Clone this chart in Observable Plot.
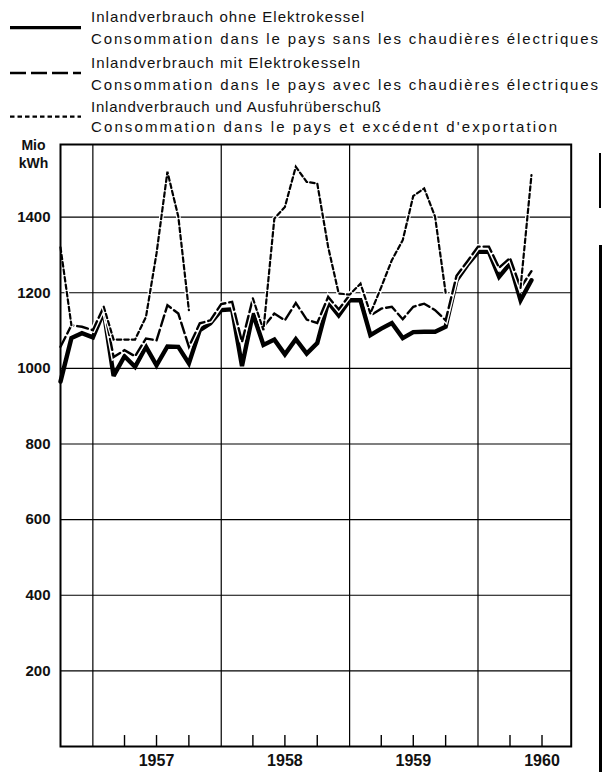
<!DOCTYPE html>
<html>
<head>
<meta charset="utf-8">
<script src="https://cdn.jsdelivr.net/npm/d3@7"></script>
<script src="https://cdn.jsdelivr.net/npm/@observablehq/plot@0.6"></script>
<style>
  html, body { margin: 0; padding: 0; background: #fff; }
  #wrap { position: relative; width: 602px; height: 772px; overflow: hidden; }
  .edge { position: absolute; background: #000; }
</style>
</head>
<body>
<div id="wrap"></div>
<script>
// ---- data ----
const months = [
  "1956-10","1956-11","1956-12",
  "1957-01","1957-02","1957-03","1957-04","1957-05","1957-06","1957-07","1957-08","1957-09","1957-10","1957-11","1957-12",
  "1958-01","1958-02","1958-03","1958-04","1958-05","1958-06","1958-07","1958-08","1958-09","1958-10","1958-11","1958-12",
  "1959-01","1959-02","1959-03","1959-04","1959-05","1959-06","1959-07","1959-08","1959-09","1959-10","1959-11","1959-12",
  "1960-01","1960-02","1960-03","1960-04","1960-05","1960-06"
];
// Inlandverbrauch ohne Elektrokessel
const ohne = [
  965,1080,1093,
  1082,1150,980,1032,1004,1057,1008,1058,1057,1013,1101,1119,
  1154,1156,1006,1145,1062,1076,1037,1077,1039,1067,1175,1140,
  1180,1180,1088,1105,1120,1080,1096,1097,1097,1110,1233,1273,
  1308,1308,1242,1277,1180,1233
];
// Inlandverbrauch mit Elektrokesseln
const mit = [
  1057,1114,1110,
  1101,1163,1030,1048,1032,1079,1074,1167,1145,1057,1119,1127,
  1170,1176,1070,1185,1110,1145,1127,1173,1129,1120,1189,1156,
  1194,1224,1140,1158,1163,1130,1163,1171,1154,1127,1245,1282,
  1322,1322,1266,1292,1213,1257
];
// Inlandverbrauch und Ausfuhrüberschuß (null = coincides with the line above)
const ausfuhr = [
  1320,1114,null,
  null,1163,1076,1076,1076,1136,1304,1520,1401,1154,null,null,
  null,null,null,1185,1101,1396,1427,1533,1493,1489,1321,1198,
  1195,1224,1145,1215,1286,1339,1456,1476,1401,1200,null,null,
  null,null,null,null,1213,1511
];
const yTicks = [200, 400, 600, 800, 1000, 1200, 1400];
const yearLabels = ["1957", "1958", "1959", "1960"];
const unitLabel = "Mio\nkWh";
const legendDe = ["Inlandverbrauch ohne Elektrokessel", "Inlandverbrauch mit Elektrokesseln", "Inlandverbrauch und Ausfuhrüberschuß"];
const legendFr = ["Consommation dans le pays sans les chaudières électriques", "Consommation dans le pays avec les chaudières électriques", "Consommation dans le pays et excédent d'exportation"];

// ---- derived ----
const parseMonth = d3.utcParse("%Y-%m");
const rows = months.map((m, i) => ({date: parseMonth(m), ohne: ohne[i], mit: mit[i], ausfuhr: ausfuhr[i]}));
const yearStarts = yearLabels.map(y => new Date(Date.UTC(+y, 0, 1)));
const yearMids = yearLabels.map(y => ({label: y, date: new Date(Date.UTC(+y, 6, 1))}));
const xStart = new Date(Date.UTC(1956, 9, 1));
const xEnd = new Date(Date.UTC(1960, 8, 22));
const quarterTicks = yearLabels.flatMap(y => [3, 6, 9].map(m => new Date(Date.UTC(+y, m, 1)))).filter(d => d < xEnd);

const FONT = "'Liberation Sans', Arial, Helvetica, sans-serif";
const wrap = document.getElementById("wrap");

// ---- legend ----
const legendW = [273, 507, 269, 507, 290, 466];
const swatchY = [27.6, 73, 116.7];
const baseY = [[21.7, 43.5], [68, 90], [112.3, 131.7]];
const dashes = [null, "16,5", "4.5,3"];
const widths = [3.4, 2.4, 2.2];
const lg = d3.create("svg").attr("width", 602).attr("height", 136).style("display", "block");
legendDe.forEach((de, i) => {
  lg.append("line").attr("x1", 10).attr("x2", 81).attr("y1", swatchY[i]).attr("y2", swatchY[i])
    .attr("stroke", "#000").attr("stroke-width", widths[i]).attr("stroke-dasharray", dashes[i]);
  [de, legendFr[i]].forEach((t, j) => {
    lg.append("text").attr("x", 91).attr("y", baseY[i][j])
      .attr("font-family", FONT).attr("font-size", 15).attr("fill", "#111")
      .attr("textLength", legendW[i * 2 + j]).attr("lengthAdjust", "spacing").text(t);
  });
});
wrap.appendChild(lg.node());

// ---- chart ----
const chart = Plot.plot({
  width: 602,
  height: 636,
  marginTop: 8,
  marginBottom: 26,
  marginLeft: 60,
  marginRight: 31.3,
  style: {fontFamily: FONT, background: "#fff", overflow: "visible"},
  x: {type: "utc", domain: [xStart, xEnd], axis: null},
  y: {domain: [0, 1592], axis: null},
  marks: [
    Plot.ruleY(yTicks, {stroke: "#000", strokeWidth: 1.2}),
    Plot.ruleX(yearStarts, {stroke: "#000", strokeWidth: 1.2}),
    Plot.ruleX(quarterTicks, {y1: 0, y2: 29, stroke: "#000", strokeWidth: 1.4}),
    Plot.text(yTicks, {y: d => d, frameAnchor: "left", dx: -10, textAnchor: "end", text: d => String(d), fontSize: 15, fontWeight: "bold", fill: "#111"}),
    Plot.text(yearMids, {x: "date", text: "label", frameAnchor: "bottom", dy: 14, lineAnchor: "middle", fontSize: 16, fontWeight: "bold", fill: "#111"}),
    Plot.text([unitLabel], {frameAnchor: "top-left", dx: -27, dy: 8.4, textAnchor: "middle", lineAnchor: "middle", lineHeight: 1.35, fontSize: 14, fontWeight: "bold", fill: "#111"}),
    // solid
    Plot.line(rows, {x: "date", y: "ohne", stroke: "#000", strokeWidth: 4.4, strokeLinejoin: "miter", strokeMiterlimit: 3}),
    // dashed with white halo
    Plot.line(rows, {x: "date", y: "mit", stroke: "#fff", strokeWidth: 5.2, strokeLinejoin: "miter", strokeMiterlimit: 3}),
    Plot.line(rows, {x: "date", y: "mit", stroke: "#000", strokeWidth: 2.4, strokeDasharray: "11,4", strokeLinejoin: "miter", strokeMiterlimit: 3}),
    // dotted with white halo
    Plot.line(rows, {x: "date", y: "ausfuhr", stroke: "#fff", strokeWidth: 4.6, strokeLinejoin: "miter", strokeMiterlimit: 3}),
    Plot.line(rows, {x: "date", y: "ausfuhr", stroke: "#000", strokeWidth: 2.2, strokeDasharray: "4.5,3", strokeLinejoin: "miter", strokeMiterlimit: 3}),
    Plot.frame({stroke: "#000", strokeWidth: 2})
  ]
});
chart.style.display = "block";
wrap.appendChild(chart);

// scan edge at the right of the page
[[153, 55, 2], [245, 527, 3]].forEach(([top, h, w]) => {
  const e = document.createElement("div");
  e.className = "edge";
  e.style.left = "599px"; e.style.top = top + "px"; e.style.width = w + "px"; e.style.height = h + "px";
  wrap.appendChild(e);
});
</script>
</body>
</html>
